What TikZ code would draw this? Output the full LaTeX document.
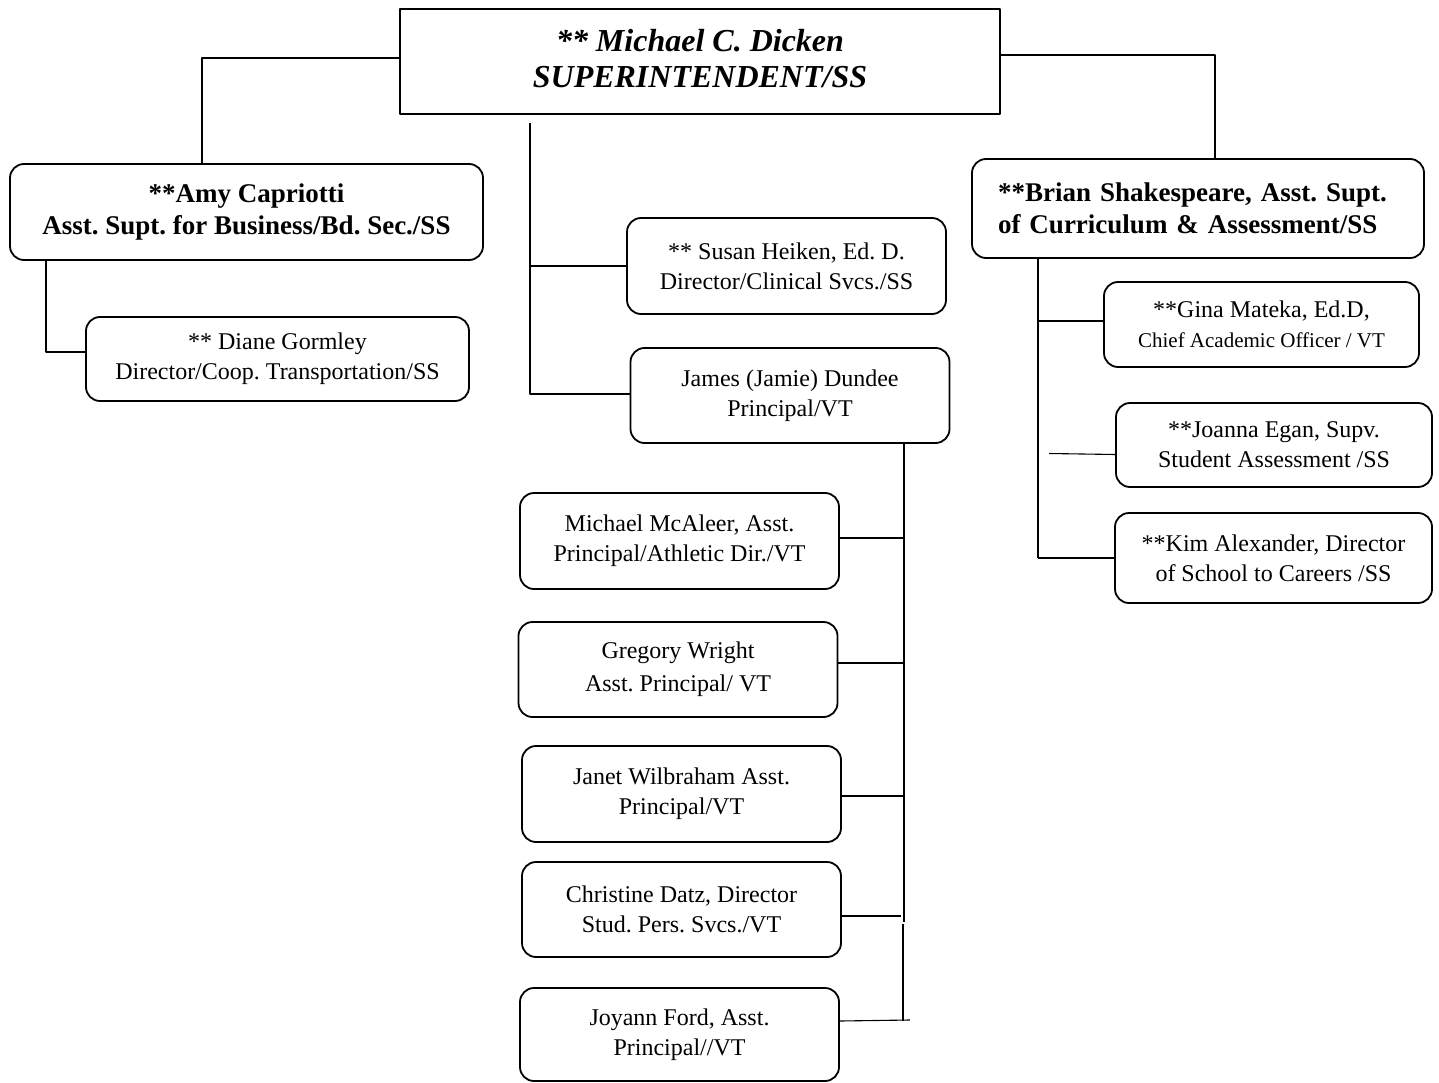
\documentclass[tikz,border=0pt]{standalone}
\usepackage{fontspec}
\setmainfont{Liberation Serif}
\usetikzlibrary{positioning}
\frenchspacing

\begin{document}
\begin{tikzpicture}[x=1pt, y=-1pt, line join=round,
    rbox/.style={draw, line width=1.8pt, rounded corners=14pt, align=center, inner sep=0pt,
      minimum width=319, minimum height=95, font=\fontsize{24}{30}\selectfont},
    bbox/.style={rbox, font=\bfseries\fontsize{27}{32}\selectfont},
    link/.style={line width=1.7pt},
    thinlink/.style={line width=1.1pt}]
  \useasboundingbox (0,0) rectangle (1439,1083);
  % superintendent
  \node[draw, line width=2.3pt, minimum width=600, minimum height=105, align=center, text depth=7pt,
    font=\bfseries\itshape\fontsize{32}{36}\selectfont] (sup) at (700,61.5)
    {** Michael C. Dicken\\SUPERINTENDENT/SS};
  % assistant superintendents
  \node[bbox, minimum width=473, minimum height=96] (amy) at (246.5,212)
    {**Amy Capriotti\\Asst. Supt. for Business/Bd. Sec./SS};
  \node[bbox, minimum height=99, text width=400, inner xsep=26pt, align=left] (brian) at (1198,208.5)
    {**Brian Shakespeare, Asst. Supt.\\of Curriculum \& Assessment/SS};
  \node[rbox, minimum width=383, minimum height=84] (diane) at (277.5,359)
    {** Diane Gormley\\Director/Coop. Transportation/SS};
  % directors and principal
  \node[rbox, minimum height=96] (susan) at (786.5,266)
    {** Susan Heiken, Ed. D.\\Director/Clinical Svcs./SS};
  \node[rbox] (james) at (790,395.5)
    {James (Jamie) Dundee\\Principal/VT};
  \node[rbox, minimum width=315, minimum height=85] (gina) at (1261.5,324.5)
    {**Gina Mateka, Ed.D,\\{\fontsize{21}{28}\selectfont Chief Academic Officer / VT}};
  \node[rbox, minimum width=316, minimum height=84] (joanna) at (1274,445)
    {**Joanna Egan, Supv.\\Student Assessment /SS};
  \node[rbox, minimum width=317, minimum height=90] (kim) at (1273.5,558)
    {**Kim Alexander, Director\\of School to Careers /SS};
  % assistant principals
  \node[rbox, minimum height=96] (mcaleer) at (679.5,541)
    {Michael McAleer, Asst.\\Principal/Athletic Dir./VT};
  \node[rbox] (gregory) at (678,669.5)
    {Gregory Wright\\[3pt]Asst. Principal/ VT};
  \node[rbox, minimum height=96] (janet) at (681.5,794)
    {Janet Wilbraham Asst.\\Principal/VT};
  \node[rbox] (christine) at (681.5,909.5)
    {Christine Datz, Director\\Stud. Pers. Svcs./VT};
  \node[rbox, minimum height=93] (joyann) at (679.5,1034.5)
    {Joyann Ford, Asst.\\Principal//VT};
  % connectors from the top
  \draw[link] ([yshift=3.5]sup.west) -| ([xshift=-44.5]amy.north);
  \draw[link] ([yshift=6.5]sup.east) -| ([xshift=17]brian.north);
  \coordinate (mid) at ([xshift=-170,yshift=-8]sup.south);
  \draw[link] (mid) |- ([yshift=1.5]james.west);
  \draw[link] (susan.west) -- (susan.west -| mid);
  % business branch
  \draw[link] ([xshift=-200.5]amy.south) |- ([yshift=7]diane.west);
  % curriculum branch
  \coordinate (cur) at ([xshift=-160]brian.south);
  \draw[thinlink] (cur) -- (cur |- kim.west);
  \draw[link] ([yshift=3.5]gina.west) -- ([yshift=3.5]gina.west -| cur);
  \draw[thinlink] ([yshift=-9.5]joanna.west) -- ++(-66,-1);
  \draw[link] (kim.west) -- (kim.west -| cur);
  % principal branch
  \coordinate (prin) at ([xshift=114]james.south);
  \draw[link] (prin) -- ++(0,478);
  \draw[link] ([xshift=-1,yshift=-480]prin) -- ++(0,97);
  \draw[link] ([yshift=3]mcaleer.east) -- ([yshift=3]mcaleer.east -| prin);
  \draw[link] ([yshift=6.5]gregory.east) -- ([yshift=6.5]gregory.east -| prin);
  \draw[link] ([yshift=-2]janet.east) -- ([yshift=-2]janet.east -| prin);
  \draw[link] ([yshift=-6.5]christine.east) -- ++(59,0);
  \draw[thinlink] ([yshift=13.5]joyann.east) -- ++(70,-1);
\end{tikzpicture}
\end{document}
